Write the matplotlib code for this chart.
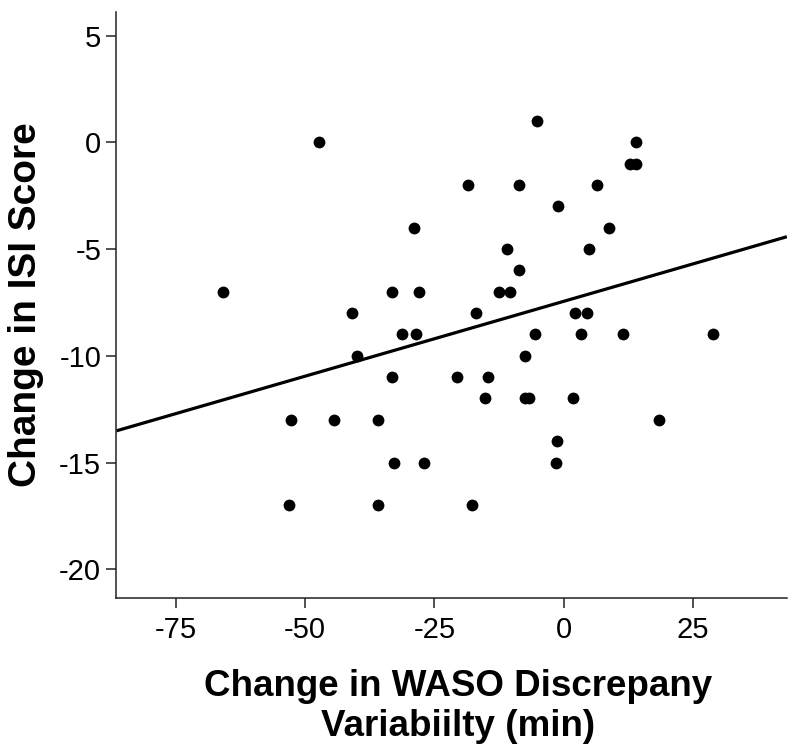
import numpy as np
import matplotlib
matplotlib.use("Agg")
import matplotlib.pyplot as plt

plt.rcParams['font.family'] = ['Liberation Sans', 'DejaVu Sans']
plt.rcParams['axes.unicode_minus'] = False

# change in WASO discrepancy variability (min)
waso_change = [
    -47.4, -29.0, -65.9, -33.1, -28.0, -41.0, -31.3, -28.6,
    -5.2, 14.0, 12.9, 14.0, -18.4, -8.6, 6.5, -1.0, 8.7, -11.0,
    5.0, -8.6, -12.5, -10.4, -16.9, 2.3, 4.6, -5.5, 3.4, 11.5,
    29.0, -40.0, -33.2, -20.7, -52.7, -44.4, -35.9, -32.9, -27.0,
    -53.1, -36.0, -7.5, -14.7, -15.2, -7.5, -6.6, 1.9, 18.5,
    -1.3, -1.5, -17.8,
]
# change in ISI score
isi_change = [
    0, -4, -7, -7, -7, -8, -9, -9,
    1, 0, -1, -1, -2, -2, -2, -3, -4, -5,
    -5, -6, -7, -7, -8, -8, -8, -9, -9, -9,
    -9, -10, -11, -11, -13, -13, -13, -15, -15,
    -17, -17, -10, -11, -12, -12, -12, -12, -13,
    -14, -15, -17,
]

# linear fit line
fit_slope = 0.0701
fit_intercept = -7.45

x_ticks = [-75, -50, -25, 0, 25]
y_ticks = [5, 0, -5, -10, -15, -20]
x_lim = (-86.5, 43.2)
y_lim = (-21.36, 6.12)

fig = plt.figure(figsize=(8, 7.54), dpi=100)
ax = fig.add_axes([0.1456, 0.2065, 0.838, 0.778])

ax.plot(waso_change, isi_change, 'o', color='black', markersize=8.5,
        markeredgewidth=0, zorder=3)

xs = np.array(x_lim)
ax.plot(xs, fit_intercept + fit_slope * xs, color='black', linewidth=2.3,
        solid_capstyle='butt', zorder=2)

ax.set_xlim(*x_lim)
ax.set_ylim(*y_lim)
ax.set_xticks(x_ticks)
ax.set_yticks(y_ticks)

for side in ['top', 'right']:
    ax.spines[side].set_visible(False)
for side in ['left', 'bottom']:
    ax.spines[side].set_linewidth(1.1)
    ax.spines[side].set_color('#222222')

ax.tick_params(axis='both', direction='out', length=7, width=1.1,
               labelsize=21, color='#222222', pad=4)
ax.tick_params(axis='x', pad=6)

fig.text(458 / 800, 0.1127, 'Change in WASO Discrepany\nVariabiilty (min)',
         ha='center', va='top', fontsize=26.5, fontweight='bold',
         linespacing=1.2)
fig.text(0.01, 0.5955, 'Change in ISI Score', rotation=90,
         ha='left', va='center', fontsize=28, fontweight='bold')

fig.savefig('out.png', dpi=100)
